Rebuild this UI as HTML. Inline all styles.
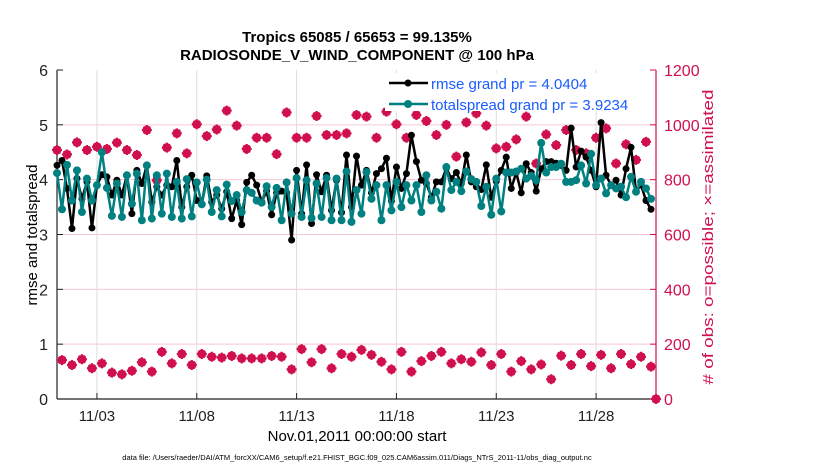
<!DOCTYPE html>
<html><head><meta charset="utf-8">
<style>
body{margin:0;background:#fff;}
svg{display:block;font-family:"Liberation Sans",Arial,sans-serif;}
</style></head>
<body>
<svg id="chart" width="830" height="470" viewBox="0 0 830 470">
<text x="357" y="42" text-anchor="middle" font-size="15" font-weight="bold">Tropics 65085 / 65653 = 99.135%</text>
<text x="357" y="60" text-anchor="middle" font-size="15" font-weight="bold">RADIOSONDE_V_WIND_COMPONENT @ 100 hPa</text>
<g id="grid"></g>
<g id="axes"></g>
<g id="obs"></g>
<g id="series"></g>
<text transform="translate(37,235) rotate(-90)" text-anchor="middle" font-size="15">rmse and totalspread</text>
<text transform="translate(713,237) rotate(-90)" text-anchor="middle" font-size="15" textLength="295" lengthAdjust="spacingAndGlyphs" fill="#d0104c"># of obs: o=possible; ×=assimilated</text>
<text x="357" y="441" text-anchor="middle" font-size="15">Nov.01,2011 00:00:00 start</text>
<text x="357" y="460" text-anchor="middle" font-size="7.5">data file: /Users/raeder/DAI/ATM_forcXX/CAM6_setup/f.e21.FHIST_BGC.f09_025.CAM6assim.011/Diags_NTrS_2011-11/obs_diag_output.nc</text>
<g>
<rect x="385" y="73" width="268" height="38" fill="#fff"/>
<line x1="389" y1="83" x2="428" y2="83" stroke="#000" stroke-width="2.5"/>
<circle cx="408" cy="83" r="3.5" fill="#000"/>
<text x="431" y="89" font-size="15" fill="#1a5cff">rmse grand pr = 4.0404</text>
<line x1="389" y1="104" x2="428" y2="104" stroke="#008080" stroke-width="2.5"/>
<circle cx="408" cy="104" r="4" fill="#008080"/>
<text x="431" y="110" font-size="15" fill="#1a5cff">totalspread grand pr = 3.9234</text>
</g>
</svg>
<script>
// 6-hourly values starting Nov 01 00Z
const rmse = [4.26,4.35,3.84,3.11,4.02,3.65,3.96,3.12,3.90,4.09,4.05,3.72,3.99,3.72,4.08,3.38,4.17,3.93,4.26,3.59,
3.87,3.72,3.90,3.87,4.35,3.50,3.87,4.08,3.62,3.56,4.07,3.59,3.72,3.47,3.78,3.29,3.62,3.18,3.95,4.08,3.90,3.60,
3.79,3.36,3.76,3.79,3.76,2.90,4.17,3.38,4.27,3.20,4.09,3.78,4.08,3.44,3.99,3.40,4.45,3.50,
4.43,3.90,4.17,3.76,4.11,4.20,4.39,3.61,4.23,3.84,4.11,4.81,4.33,3.99,3.93,3.68,3.96,3.96,4.21,4.02,
4.13,3.93,4.45,3.96,3.87,3.82,4.27,3.68,3.97,4.17,4.41,3.84,4.13,3.76,4.29,4.13,3.79,4.20,4.33,4.33,4.30,
4.26,4.17,4.94,4.23,4.52,4.41,4.17,3.87,5.04,4.08,3.90,3.99,3.72,4.20,4.59,3.79,3.90,3.62,3.46];
const spread = [4.12,3.46,4.27,3.62,4.17,3.41,4.02,3.62,3.90,4.50,3.85,3.34,3.93,3.32,4.08,3.56,4.11,3.26,4.26,3.29,
4.08,3.38,4.11,3.32,3.96,3.29,4.01,3.33,3.95,3.55,4.00,3.41,3.81,3.33,3.91,3.61,3.72,3.41,3.81,3.76,3.62,3.58,
3.88,3.50,3.85,3.26,3.95,3.38,4.03,3.32,3.99,3.30,3.93,3.32,4.03,3.26,4.02,3.26,4.15,3.23,
3.81,3.38,4.14,3.65,3.90,3.26,3.90,3.44,3.96,3.50,3.90,3.62,3.90,3.41,4.08,3.62,3.78,3.47,4.23,3.81,
3.96,3.79,4.15,4.01,3.96,3.52,3.87,3.36,4.02,3.42,4.13,4.13,4.15,4.20,4.02,4.07,3.99,4.67,4.13,4.23,4.23,
4.29,3.96,3.96,3.99,4.26,3.93,4.47,3.90,4.02,3.75,3.90,3.84,3.87,3.68,4.05,3.78,3.96,3.84,3.65];
// obs counts at 00Z/12Z
const obsMain = [908,892,936,908,920,912,935,908,890,981,798,917,969,896,1002,959,983,1052,997,912,953,
953,893,1045,953,953,1032,963,963,969,1036,1030,953,1048,1002,953,1036,1014,963,1000,
884,1009,1042,997,914,920,947,1030,859,965,926,981,908,896,953,987,859,929,872,938,0];
// obs counts at 06Z/18Z
const obsOff = [142,124,145,112,130,96,90,103,134,100,172,130,164,124,164,154,151,157,148,148,148,157,154,108,182,134,182,112,164,154,
179,161,136,108,172,100,138,157,172,130,145,136,170,124,164,100,138,108,126,72,158,124,164,120,161,112,164,127,154,118];
const xTickLabels = ["11/03","11/08","11/13","11/18","11/23","11/28"];
const xTickDays = [2,7,12,17,22,27];
const leftTicks = [0,1,2,3,4,5,6];
const rightTicks = [0,200,400,600,800,1000,1200];

const NS="http://www.w3.org/2000/svg";
const L=57,R=656,T=70,B=399;
const xDay=d=>L+(R-L)*d/30;
const yL=v=>B-(B-T)*v/6;
const yR=v=>B-(B-T)*v/1200;
function mk(tag,attrs,parent){const e=document.createElementNS(NS,tag);for(const k in attrs)e.setAttribute(k,attrs[k]);parent.appendChild(e);return e;}
const grid=document.getElementById('grid'),axes=document.getElementById('axes'),obs=document.getElementById('obs'),ser=document.getElementById('series');
const red="#d0104c";
rightTicks.forEach(t=>{if(t>0&&t<1200){const g=mk('line',{x1:L,x2:R,y1:yR(t),y2:yR(t),stroke:'#f6c8d6','stroke-width':1},grid);

}});
xTickDays.forEach((d,i)=>{const g=mk('line',{x1:xDay(d),x2:xDay(d),y1:T,y2:B,stroke:'#ddd','stroke-width':1},grid);


mk('line',{x1:xDay(d),x2:xDay(d),y1:B,y2:B-6,stroke:'#222'},axes);
const t=mk('text',{x:xDay(d),y:B+22,'text-anchor':'middle','font-size':15,fill:'#222'},axes);t.textContent=xTickLabels[i];

});
mk('line',{x1:L,x2:R,y1:B,y2:B,stroke:'#222','stroke-width':1.2},axes);
mk('line',{x1:L,x2:L,y1:T,y2:B,stroke:'#222','stroke-width':1.2},axes);
mk('line',{x1:R,x2:R,y1:T,y2:B,stroke:red,'stroke-width':1.2},axes);
leftTicks.forEach(v=>{mk('line',{x1:L,x2:L+6,y1:yL(v),y2:yL(v),stroke:'#222'},axes);
const t=mk('text',{x:L-9,y:yL(v)+6,'text-anchor':'end','font-size':16,fill:'#222'},axes);t.textContent=v;

});
rightTicks.forEach(v=>{mk('line',{x1:R,x2:R-6,y1:yR(v),y2:yR(v),stroke:red},axes);
const t=mk('text',{x:R+8,y:yR(v)+6,'font-size':16,fill:red},axes);t.textContent=v;

});
function obsMark(x,y){const g=mk('g',{},obs);


mk('circle',{cx:x,cy:y,r:3.5,fill:'none',stroke:red,'stroke-width':1.8},g);
mk('path',{d:`M${x-5} ${y}H${x+5}M${x} ${y-5}V${y+5}M${x-3.3} ${y-3.3}L${x+3.3} ${y+3.3}M${x-3.3} ${y+3.3}L${x+3.3} ${y-3.3}`,stroke:red,'stroke-width':2.2},g);}
obsMain.forEach((v,i)=>obsMark(xDay(i*0.5),yR(v)));
obsOff.forEach((v,i)=>obsMark(xDay(i*0.5+0.25),yR(v)));
function line(vals,col,r,name){const pts=vals.map((v,i)=>[xDay(i*0.25),yL(v)]);
const p=mk('polyline',{points:pts.map(p=>p.join(',')).join(' '),fill:'none',stroke:col,'stroke-width':2.5,'stroke-linejoin':'round'},ser);


pts.forEach(q=>{const c=mk('circle',{cx:q[0],cy:q[1],r:r,fill:col},ser);

});}
line(rmse,'#000',3.5,'rmse');
line(spread,'#008080',4,'totalspread');
</script>
</body></html>
